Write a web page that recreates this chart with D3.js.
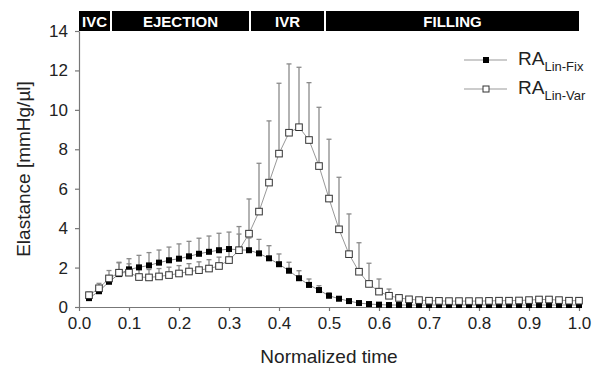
<!DOCTYPE html>
<html>
<head>
<meta charset="utf-8"/>
<script src="https://cdn.jsdelivr.net/npm/d3@7"></script>
<style>
  body { margin: 0; background: #fff; }
  text { font-family: "Liberation Sans", Arial, sans-serif; }
</style>
</head>
<body>
<script>
    var time = [0.02, 0.04, 0.06, 0.08, 0.10, 0.12, 0.14, 0.16, 0.18, 0.20,
                0.22, 0.24, 0.26, 0.28, 0.30, 0.32, 0.34, 0.36, 0.38, 0.40,
                0.42, 0.44, 0.46, 0.48, 0.50, 0.52, 0.54, 0.56, 0.58, 0.60,
                0.62, 0.64, 0.66, 0.68, 0.70, 0.72, 0.74, 0.76, 0.78, 0.80,
                0.82, 0.84, 0.86, 0.88, 0.90, 0.92, 0.94, 0.96, 0.98, 1.00];

    // RA Lin-Fix (filled squares)
    var fixMean = [0.45, 0.80, 1.28, 1.67, 1.91, 2.01, 2.11, 2.25, 2.37, 2.45,
                   2.57, 2.70, 2.80, 2.88, 2.94, 2.90, 2.88, 2.72, 2.47, 2.17,
                   1.84, 1.46, 1.12, 0.86, 0.57, 0.42, 0.30, 0.20, 0.15, 0.12,
                   0.10, 0.10, 0.10, 0.10, 0.10, 0.10, 0.10, 0.10, 0.10, 0.10,
                   0.10, 0.10, 0.10, 0.10, 0.10, 0.10, 0.10, 0.10, 0.10, 0.10];
    var fixSd   = [0.10, 0.20, 0.30, 0.60, 0.54, 0.61, 0.65, 0.64, 0.67, 0.75,
                   0.76, 0.79, 0.80, 0.86, 0.86, 0.80, 0.62, 0.71, 0.64, 0.52,
                   0.43, 0.38, 0.30, 0.22, 0.15, 0.10, 0.08, 0.05, 0.03, 0.03,
                   0.03, 0.03, 0.03, 0.03, 0.03, 0.03, 0.03, 0.03, 0.03, 0.03,
                   0.03, 0.03, 0.03, 0.03, 0.03, 0.03, 0.03, 0.03, 0.03, 0.03];

    // RA Lin-Var (open squares)
    var varMean = [0.60, 0.95, 1.45, 1.74, 1.74, 1.52, 1.50, 1.55, 1.62, 1.70,
                   1.80, 1.87, 1.95, 2.08, 2.38, 2.88, 3.72, 4.84, 6.31, 7.78,
                   8.84, 9.12, 8.47, 7.15, 5.50, 3.94, 2.68, 1.79, 1.17, 0.78,
                   0.57, 0.46, 0.39, 0.35, 0.32, 0.31, 0.30, 0.30, 0.30, 0.30,
                   0.31, 0.32, 0.32, 0.33, 0.35, 0.38, 0.38, 0.35, 0.32, 0.32];
    var varSd   = [0.15, 0.25, 0.40, 0.50, 0.45, 0.40, 0.40, 0.40, 0.40, 0.40,
                   0.40, 0.42, 0.45, 0.45, 0.50, 1.20, 1.76, 2.45, 3.13, 3.57,
                   3.49, 3.04, 2.91, 2.98, 3.01, 2.64, 2.04, 1.47, 1.05, 0.64,
                   0.34, 0.15, 0.10, 0.08, 0.08, 0.08, 0.08, 0.08, 0.08, 0.08,
                   0.08, 0.08, 0.08, 0.08, 0.08, 0.08, 0.08, 0.08, 0.08, 0.15];

    var phases = ["IVC", "EJECTION", "IVR", "FILLING"];
    var phaseEdges = [0, 0.064, 0.342, 0.492, 1.0];

    var xTicks = [0.0, 0.1, 0.2, 0.3, 0.4, 0.5, 0.6, 0.7, 0.8, 0.9, 1.0];
    var yTicks = [0, 2, 4, 6, 8, 10, 12, 14];

    var w = 599, h = 371;
    var m = {left: 79, right: 20, top: 31, bottom: 64};

    var svg = d3.select("body")
        .append("svg")
        .attr("width", w)
        .attr("height", h);

    var x = d3.scaleLinear().domain([0, 1]).range([m.left, w - m.right]);
    var y = d3.scaleLinear().domain([0, 14]).range([h - m.bottom, m.top]);

    // phase bar along the top
    var bar = svg.append("g");
    phases.forEach(function(p, i) {
        var x0 = x(phaseEdges[i]) + (i > 0 ? 1 : 0);
        var x1 = x(phaseEdges[i + 1]) - (i < phases.length - 1 ? 1 : 0);
        bar.append("rect")
            .attr("x", x0).attr("y", 11)
            .attr("width", x1 - x0).attr("height", 20)
            .attr("fill", "#000");
        bar.append("text")
            .attr("x", (x0 + x1) / 2).attr("y", 27)
            .attr("text-anchor", "middle")
            .attr("fill", "#fff")
            .attr("font-weight", "bold")
            .attr("font-size", 15)
            .text(p);
    });

    // axes
    var xAxis = svg.append("g")
        .attr("transform", "translate(0," + y(0) + ")")
        .call(d3.axisBottom(x).tickValues(xTicks).tickFormat(d3.format(".1f"))
              .tickSizeInner(4).tickSizeOuter(0).tickPadding(6));
    var yAxis = svg.append("g")
        .attr("transform", "translate(" + x(0) + ",0)")
        .call(d3.axisLeft(y).tickValues(yTicks)
              .tickSizeInner(4).tickSizeOuter(0).tickPadding(7));
    [xAxis, yAxis].forEach(function(a) {
        a.select(".domain").attr("stroke", "#777").attr("stroke-width", 1.2);
        a.selectAll(".tick line").attr("stroke", "#777").attr("stroke-width", 1.2);
        a.selectAll(".tick text").attr("fill", "#222").attr("font-size", 17)
            .attr("font-family", "Liberation Sans, Arial, sans-serif");
    });

    svg.append("text")
        .attr("x", x(0.5)).attr("y", 363)
        .attr("text-anchor", "middle").attr("font-size", 19).attr("fill", "#222")
        .text("Normalized time");
    svg.append("text")
        .attr("transform", "translate(30," + y(7.0) + ") rotate(-90)")
        .attr("text-anchor", "middle").attr("font-size", 19).attr("fill", "#222")
        .text("Elastance [mmHg/\u00b5l]");

    var fix = time.map(function(t, i) { return {t: t, v: fixMean[i], sd: fixSd[i]}; });
    var vr = time.map(function(t, i) { return {t: t, v: varMean[i], sd: varSd[i]}; });

    function errorBars(data) {
        var g = svg.append("g").attr("stroke", "#8a8a8a").attr("stroke-width", 1.3);
        g.selectAll("line.v").data(data).enter().append("line")
            .attr("x1", function(d) { return x(d.t); })
            .attr("x2", function(d) { return x(d.t); })
            .attr("y1", function(d) { return y(d.v); })
            .attr("y2", function(d) { return y(d.v + d.sd); });
        g.selectAll("line.c").data(data).enter().append("line")
            .attr("x1", function(d) { return x(d.t) - 2.5; })
            .attr("x2", function(d) { return x(d.t) + 2.5; })
            .attr("y1", function(d) { return y(d.v + d.sd); })
            .attr("y2", function(d) { return y(d.v + d.sd); });
    }
    errorBars(fix);
    errorBars(vr);

    var line = d3.line()
        .x(function(d) { return x(d.t); })
        .y(function(d) { return y(d.v); });

    svg.append("path").datum(fix).attr("d", line)
        .attr("fill", "none").attr("stroke", "#888").attr("stroke-width", 1);
    svg.append("path").datum(vr).attr("d", line)
        .attr("fill", "none").attr("stroke", "#999").attr("stroke-width", 1);

    svg.selectAll("rect.fix").data(fix).enter().append("rect")
        .attr("x", function(d) { return x(d.t) - 3; })
        .attr("y", function(d) { return y(d.v) - 3; })
        .attr("width", 6).attr("height", 6)
        .attr("fill", "#000");
    svg.selectAll("rect.var").data(vr).enter().append("rect")
        .attr("x", function(d) { return x(d.t) - 3.3; })
        .attr("y", function(d) { return y(d.v) - 3.3; })
        .attr("width", 6.6).attr("height", 6.6)
        .attr("fill", "#fff").attr("stroke", "#333").attr("stroke-width", 1);

    // legend
    var leg = svg.append("g");
    [["Lin-Fix", "#000", "none", 60], ["Lin-Var", "#fff", "#333", 89]].forEach(function(l) {
        leg.append("line").attr("x1", 464).attr("x2", 507)
            .attr("y1", l[3]).attr("y2", l[3])
            .attr("stroke", "#999").attr("stroke-width", 1);
        leg.append("rect").attr("x", 483).attr("y", l[3] - 3)
            .attr("width", 6).attr("height", 6)
            .attr("fill", l[1]).attr("stroke", l[2]);
        var t = leg.append("text").attr("x", 518).attr("y", l[3] + 5)
            .attr("font-size", 19).attr("fill", "#222");
        t.append("tspan").text("RA");
        t.append("tspan").attr("font-size", 13).attr("dy", 6).text(l[0]);
    });
</script>
</body>
</html>
